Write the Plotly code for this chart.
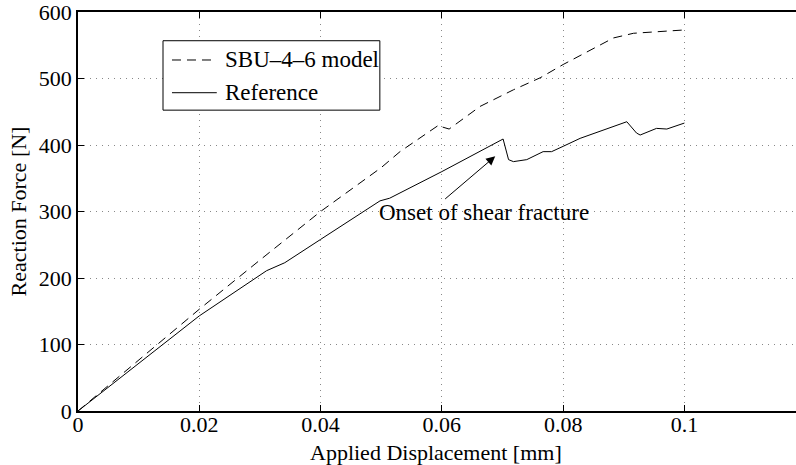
import plotly.graph_objects as go

# Force-displacement response: SBU-4-6 model vs. reference
model_disp = [0.0, 0.01, 0.02, 0.03, 0.04, 0.05, 0.0531, 0.0595, 0.0601, 0.0612,
              0.0663, 0.0718, 0.0762, 0.08, 0.0855, 0.0883, 0.0916, 0.0954, 0.1]
model_force = [0, 77, 153, 227, 300, 366, 390, 430, 427, 424,
               458, 483, 501, 521, 548, 561, 568, 570, 573]

ref_disp = [0.0, 0.01, 0.02, 0.0311, 0.0341, 0.04, 0.0498, 0.0514, 0.06, 0.0701,
            0.071, 0.0718, 0.074, 0.0767, 0.0781, 0.08, 0.0828, 0.0905, 0.0921,
            0.0927, 0.0954, 0.0971, 0.1]
ref_force = [0, 71, 143, 211, 223, 258, 316, 320, 360, 409,
             378, 375, 378, 390, 390, 398, 410, 435, 418,
             415, 425, 424, 433]

x_ticks = [0, 0.02, 0.04, 0.06, 0.08, 0.1]
x_tick_text = ["0", "0.02", "0.04", "0.06", "0.08", "0.1"]
y_ticks = [0, 100, 200, 300, 400, 500, 600]

series_names = ["SBU\u20134\u20136 model", "Reference"]
series_dash = ["9px,6px", "solid"]

FONT = "Liberation Serif, Times New Roman, serif"
FS = 22
FS_TEXT = 23

fig = go.Figure()
fig.add_trace(go.Scatter(
    x=model_disp, y=model_force, mode="lines", name=series_names[0],
    line=dict(color="black", width=1, dash=series_dash[0]),
))
fig.add_trace(go.Scatter(
    x=ref_disp, y=ref_force, mode="lines", name=series_names[1],
    line=dict(color="black", width=1, dash=series_dash[1]),
))

# Arrow pointing at the first load drop
fig.add_annotation(
    x=0.0688, y=383, ax=0.0603, ay=317, xref="x", yref="y", axref="x", ayref="y",
    showarrow=True, arrowhead=2, arrowsize=1.8, arrowwidth=1, arrowcolor="black",
    text="",
)
fig.add_annotation(
    x=0.0670, y=299, xref="x", yref="y", text="Onset of shear fracture",
    showarrow=False, font=dict(family=FONT, size=FS_TEXT, color="black"),
)

# Boxed legend in the upper-left corner
lx0, lx1, ly0, ly1 = 0.1184, 0.4204, 0.754, 0.928
fig.add_shape(type="rect", xref="paper", yref="paper", x0=lx0, x1=lx1, y0=ly0, y1=ly1,
              line=dict(color="black", width=1), fillcolor="white", layer="above")
row_y = [0.8797, 0.7977]
for name, dash, yy in zip(series_names, series_dash, row_y):
    fig.add_shape(type="line", xref="paper", yref="paper", x0=0.1309, x1=0.1933,
                  y0=yy, y1=yy, line=dict(color="black", width=1, dash=dash),
                  layer="above")
    fig.add_annotation(xref="paper", yref="paper", x=0.2016, y=yy, text=name,
                       xanchor="left", yanchor="middle", showarrow=False,
                       font=dict(family=FONT, size=FS_TEXT, color="black"))

# X-axis title placed close under the tick labels
fig.add_annotation(xref="paper", yref="paper", x=(436 - 78.3) / 717.7, y=-0.103,
                   text="Applied Displacement [mm]", showarrow=False,
                   xanchor="center", yanchor="middle",
                   font=dict(family=FONT, size=FS, color="black"))

fig.update_layout(
    width=796, height=465,
    margin=dict(l=78, r=0, t=12, b=54),
    paper_bgcolor="white", plot_bgcolor="white",
    font=dict(family=FONT, size=FS, color="black"),
    showlegend=False,
)
fig.update_xaxes(
    range=[0, 0.1184], tickvals=x_ticks, ticktext=x_tick_text,
    showline=True, linecolor="black", linewidth=1.5, mirror="ticks",
    ticks="inside", ticklen=6, tickcolor="black", tickwidth=1,
    showgrid=True, gridcolor="#888888", griddash="1px,5px", gridwidth=1,
    zeroline=False, ticklabelstandoff=-7,
    tickfont=dict(family=FONT, size=FS),
)
fig.update_yaxes(
    range=[0, 600], tickvals=y_ticks,
    showline=True, linecolor="black", linewidth=1.5, mirror=False,
    ticks="inside", ticklen=6, tickcolor="black", tickwidth=1,
    showgrid=True, gridcolor="#888888", griddash="1px,5px", gridwidth=1,
    zeroline=False, ticklabeloverflow="allow",
    title=dict(text="Reaction Force [N]", standoff=6,
               font=dict(family=FONT, size=FS)),
    tickfont=dict(family=FONT, size=FS),
)

fig.write_html("out.html")
